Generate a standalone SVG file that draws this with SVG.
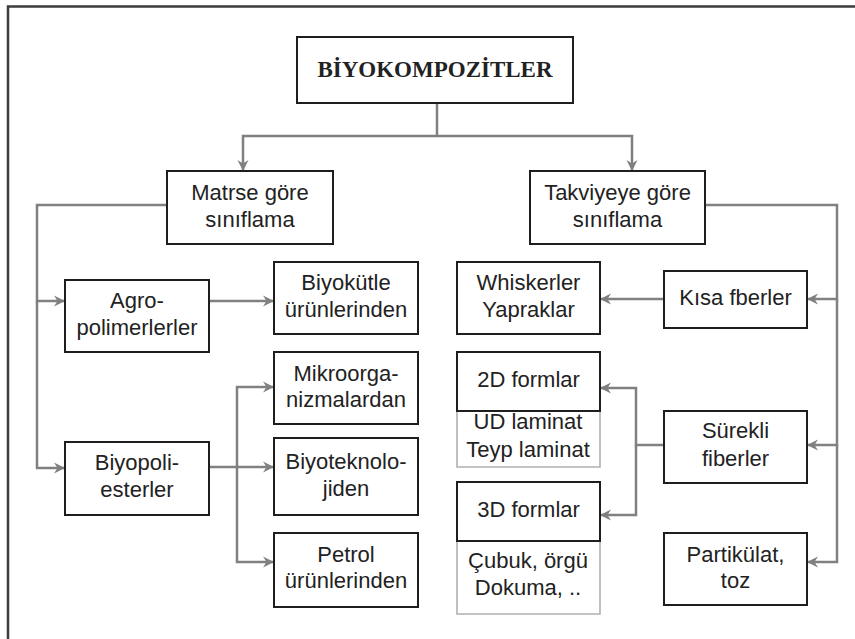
<svg xmlns="http://www.w3.org/2000/svg" width="855" height="639" viewBox="0 0 855 639">
<defs>
<marker id="ah" markerUnits="userSpaceOnUse" markerWidth="12" markerHeight="12" viewBox="0 0 12 12" refX="11" refY="6" orient="auto">
<path d="M0,0.5 L11,6 L0,11.5 L3.5,6 z" fill="#808080"/>
</marker>
<style>
.bx{fill:#fff;stroke:#1e1e1e;stroke-width:2}
.sb{fill:#fff;stroke:#b0b0b0;stroke-width:1.6}
.t{font-family:"Liberation Sans",Arial,sans-serif;font-size:22px;fill:#222;text-anchor:middle}
.ttl{font-family:"Liberation Serif","Times New Roman",serif;font-size:23px;font-weight:bold;fill:#222;text-anchor:middle}
.c{fill:none;stroke:#808080;stroke-width:2.5}
.ca{fill:none;stroke:#808080;stroke-width:2.5;marker-end:url(#ah)}
</style>
</defs>
<rect width="855" height="639" fill="#fff"/>
<path d="M8,639 V6.5 H855" fill="none" stroke="#3c3c3c" stroke-width="2.5"/>

<g id="connectors">
<path class="c" d="M437,103 V136"/>
<path class="ca" d="M437,136 H243 V171"/>
<path class="ca" d="M437,136 H632 V171"/>
<path class="ca" d="M167,205 H37 V301 H65"/>
<path class="ca" d="M37,301 V468 H65"/>
<path class="ca" d="M209,301 H274"/>
<path class="ca" d="M209,467 H274"/>
<path class="ca" d="M237,467 V387 H274"/>
<path class="ca" d="M237,467 V562 H274"/>
<path class="ca" d="M705,205 H837 V299 H807"/>
<path class="ca" d="M837,299 V445 H807"/>
<path class="ca" d="M837,445 V562 H807"/>
<path class="ca" d="M664,299 H600"/>
<path class="ca" d="M664,445 H636 V388 H600"/>
<path class="ca" d="M636,445 V515 H600"/>
</g>

<g id="biyokompozitler">
<rect class="bx" x="297" y="37" width="276" height="66"/>
<text class="ttl" x="435" y="77">BİYOKOMPOZİTLER</text>
</g>
<g id="matrse">
<rect class="bx" x="167" y="171" width="166" height="73"/>
<text class="t" x="250" y="200">Matrse göre</text>
<text class="t" x="250" y="227">sınıflama</text>
</g>
<g id="takviyeye">
<rect class="bx" x="530" y="171" width="175" height="73"/>
<text class="t" x="617.5" y="200">Takviyeye göre</text>
<text class="t" x="617.5" y="227">sınıflama</text>
</g>
<g id="agro">
<rect class="bx" x="65" y="280" width="144" height="72"/>
<text class="t" x="137" y="308">Agro-</text>
<text class="t" x="137" y="335">polimerlerler</text>
</g>
<g id="biyopoli">
<rect class="bx" x="65" y="442" width="144" height="73"/>
<text class="t" x="137" y="470">Biyopoli-</text>
<text class="t" x="137" y="497">esterler</text>
</g>
<g id="biyokutle">
<rect class="bx" x="274" y="262" width="144" height="72"/>
<text class="t" x="346" y="290">Biyokütle</text>
<text class="t" x="346" y="317">ürünlerinden</text>
</g>
<g id="mikroorga">
<rect class="bx" x="274" y="352" width="144" height="72"/>
<text class="t" x="346" y="381">Mikroorga-</text>
<text class="t" x="346" y="407">nizmalardan</text>
</g>
<g id="biyoteknolo">
<rect class="bx" x="274" y="438" width="144" height="77"/>
<text class="t" x="346" y="469">Biyoteknolo-</text>
<text class="t" x="346" y="496">jiden</text>
</g>
<g id="petrol">
<rect class="bx" x="274" y="533" width="144" height="74"/>
<text class="t" x="346" y="562">Petrol</text>
<text class="t" x="346" y="588">ürünlerinden</text>
</g>
<g id="whiskerler">
<rect class="bx" x="457" y="262" width="143" height="72"/>
<text class="t" x="528.5" y="290">Whiskerler</text>
<text class="t" x="528.5" y="317">Yapraklar</text>
</g>
<g id="kisa">
<rect class="bx" x="664" y="271" width="143" height="57"/>
<text class="t" x="735.5" y="305">Kısa fberler</text>
</g>
<g id="formlar2d">
<path class="sb" d="M457,411 V467 H600 V411"/>
<text class="t" x="528" y="429">UD laminat</text>
<text class="t" x="528" y="457">Teyp laminat</text>
<rect class="bx" x="457" y="352" width="143" height="59"/>
<text class="t" x="528.5" y="387">2D formlar</text>
</g>
<g id="formlar3d">
<path class="sb" d="M457,541 V614 H600 V541"/>
<text class="t" x="528" y="568">Çubuk, örgü</text>
<text class="t" x="528" y="595">Dokuma, ..</text>
<rect class="bx" x="457" y="482" width="143" height="59"/>
<text class="t" x="528.5" y="517">3D formlar</text>
</g>
<g id="surekli">
<rect class="bx" x="664" y="411" width="143" height="72"/>
<text class="t" x="735.5" y="438">Sürekli</text>
<text class="t" x="735.5" y="466">fiberler</text>
</g>
<g id="partikulat">
<rect class="bx" x="664" y="533" width="143" height="72"/>
<text class="t" x="735.5" y="562">Partikülat,</text>
<text class="t" x="735.5" y="588">toz</text>
</g>
</svg>
